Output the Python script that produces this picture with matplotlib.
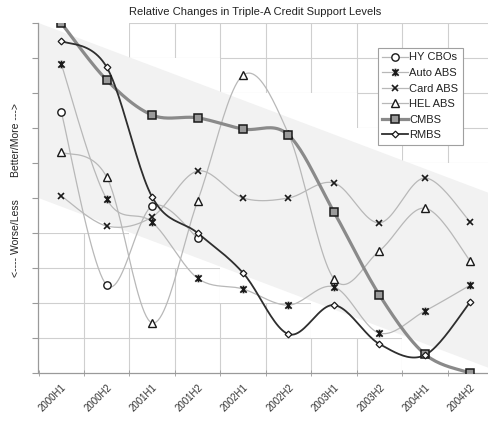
import numpy as np
import matplotlib
matplotlib.use("Agg")
import matplotlib.pyplot as plt
from matplotlib.path import Path
from matplotlib.lines import Line2D

plt.rcParams['font.family'] = ['Liberation Sans', 'DejaVu Sans']

# ---------------- data ----------------
categories = ["2000H1", "2000H2", "2001H1", "2001H2", "2002H1",
              "2002H2", "2003H1", "2003H2", "2004H1", "2004H2"]

hy_cbos = [7.46, 2.51, 4.77, 3.86]
auto_abs = [8.83, 4.97, 4.31, 2.71, 2.40, 1.94, 2.46, 1.14, 1.77, 2.51]
card_abs = [5.06, 4.20, 4.46, 5.77, 5.00, 5.00, 5.43, 4.29, 5.57, 4.31]
hel_abs = [6.31, 5.60, 1.43, 4.91, 8.51, 6.83, 2.69, 3.49, 4.71, 3.20]
cmbs = [10.0, 8.37, 7.37, 7.29, 6.97, 6.80, 4.60, 2.23, 0.54, 0.0]
rmbs = [9.49, 8.74, 5.03, 4.00, 2.86, 1.11, 1.94, 0.83, 0.51, 2.03]

# shaded "trend" band (values at left and right edge of the plot)
band_top = [10.0, 5.1]
band_bottom = [5.0, 0.1]
# white backdrop hiding gridlines behind the band (per category)
cover_top = [10, 10, 9, 9, 8, 8, 8, 7, 6, 6]
cover_bottom = [4, 4, 3, 3, 2, 2, 1, 1, 0, 0]

title = "Relative Changes in Triple-A Credit Support Levels"


def smooth(xs, ys, n=24):
    pts = np.column_stack([xs, ys]).astype(float)
    if len(pts) < 2:
        return pts
    out = [pts[0]]
    t = np.linspace(0, 1, n)[1:, None]
    for i in range(len(pts) - 1):
        p0 = pts[i - 1] if i > 0 else pts[i]
        p1 = pts[i]
        p2 = pts[i + 1]
        p3 = pts[i + 2] if i + 2 < len(pts) else pts[i + 1]
        c1 = p1 + (p2 - p0) / 6.0
        c2 = p2 - (p3 - p1) / 6.0
        seg = ((1 - t) ** 3) * p1 + 3 * ((1 - t) ** 2) * t * c1 \
            + 3 * (1 - t) * (t ** 2) * c2 + (t ** 3) * p2
        out.extend(seg)
    return np.array(out)


# Excel-style "star" marker: x with vertical bar
star = Path([(-1, -1), (1, 1), (-1, 1), (1, -1), (0, -1.2), (0, 1.2)],
            [Path.MOVETO, Path.LINETO, Path.MOVETO, Path.LINETO,
             Path.MOVETO, Path.LINETO])

W, H = 489, 423
fig = plt.figure(figsize=(W / 100, H / 100), dpi=100)
ax = fig.add_axes([38.5 / W, 50 / H, (493 - 38.5) / W, 350 / H])

n = len(categories)
ax.set_xlim(-0.5, n - 0.5)
ax.set_ylim(0, 10)

grid_c = "#cfcfcf"
# gridlines
for yv in range(1, 11):
    ax.axhline(yv, color=grid_c, lw=0.8, zorder=0.2)
for xv in np.arange(0.5, n - 0.5, 1.0):
    ax.axvline(xv, color=grid_c, lw=0.8, zorder=0.2)

# white step backdrop
xe = np.arange(-0.5, n, 1.0)
ax.fill_between(xe, cover_bottom + [cover_bottom[-1]], cover_top + [cover_top[-1]],
                step='post', color='white', lw=0, zorder=0.3)
# gray band
bx = [-0.5, n - 0.5, n - 0.5, -0.5]
by = [band_top[0], band_top[1], band_bottom[1], band_bottom[0]]
ax.fill(bx, by, color="#f2f2f2", lw=0, zorder=0.4)

light = "#b8b8b8"
edge = "#1a1a1a"
series = [
    ("HY CBOs", hy_cbos, dict(color=light, lw=0.9),
     dict(marker='o', ms=5.3, mfc='white', mec=edge, mew=1.0)),
    ("Auto ABS", auto_abs, dict(color=light, lw=0.9),
     dict(marker=star, ms=5.5, mfc='none', mec=edge, mew=1.3)),
    ("Card ABS", card_abs, dict(color=light, lw=0.9),
     dict(marker='x', ms=5, mfc='none', mec=edge, mew=1.2)),
    ("HEL ABS", hel_abs, dict(color=light, lw=0.9),
     dict(marker='^', ms=5.3, mfc='white', mec=edge, mew=1.0)),
    ("CMBS", cmbs, dict(color="#8a8a8a", lw=2.3),
     dict(marker='s', ms=5.3, mfc='#9a9a9a', mec=edge, mew=1.1)),
    ("RMBS", rmbs, dict(color="#2e2e2e", lw=1.3),
     dict(marker='D', ms=3.4, mfc='white', mec=edge, mew=0.9)),
]

handles = []
for k, (name, vals, lstyle, mstyle) in enumerate(series):
    xs = np.arange(len(vals))
    curve = smooth(xs, vals)
    ax.plot(curve[:, 0], curve[:, 1], zorder=2 + k * 0.1,
            solid_capstyle='round', **lstyle)
    ax.plot(xs, vals, ls='none', zorder=3 + k * 0.1, **mstyle)
    handles.append(Line2D([], [], label=name, **lstyle, **mstyle))

# axes styling
for s in ['top', 'right']:
    ax.spines[s].set_visible(False)
for s in ['left', 'bottom']:
    ax.spines[s].set_color("#9a9a9a")
    ax.spines[s].set_linewidth(0.9)
    ax.spines[s].set_zorder(1)

ax.set_xticks(np.arange(n))
ax.set_xticklabels(categories, rotation=45, ha='right', va='top',
                   rotation_mode='anchor', fontsize=7, color='#333333')
ax.tick_params(axis='x', which='major', length=0, pad=7)
ax.set_xticks(np.arange(-0.5, n, 1.0), minor=True)
ax.tick_params(axis='x', which='minor', length=4, color="#9a9a9a", direction='inout')
ax.set_yticks(np.arange(0, 11, 1))
ax.set_yticklabels([])
ax.tick_params(axis='y', length=4, color="#9a9a9a", direction='out')

leg = ax.legend(handles=handles, loc='upper left',
                bbox_to_anchor=((378 - 38.5) / (493 - 38.5), (373 - 48) / 350),
                borderaxespad=0, fancybox=False, framealpha=1, fontsize=8,
                handlelength=2.3, handletextpad=0.1, borderpad=0.4,
                labelspacing=0.5, edgecolor="#a0a0a0")
leg.get_frame().set_linewidth(0.8)
leg.set_zorder(10)
for t in leg.get_texts():
    t.set_color('#222222')

fig.text(255 / W, 1 - 12 / H, title, ha='center', va='center',
         fontsize=8, color='#222222')
fig.text(16 / W, 1 - 140 / H, "Better/More --->", rotation=90,
         ha='center', va='center', fontsize=7.5, color='#222222')
fig.text(16 / W, 1 - 238 / H, "<---- Worse/Less", rotation=90,
         ha='center', va='center', fontsize=7.5, color='#222222')

fig.savefig("out.png", dpi=100)
